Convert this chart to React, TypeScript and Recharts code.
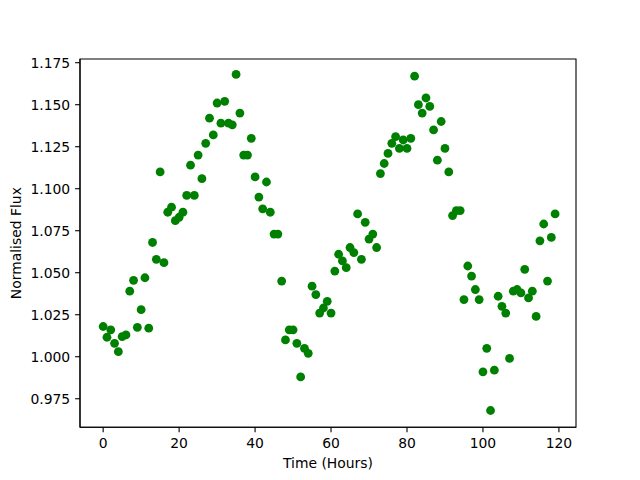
import React from 'react';
import { ScatterChart, Scatter, XAxis, YAxis, ReferenceArea } from 'recharts';

const hours: number[] = Array.from({ length: 120 }, (_, i) => i);

const flux: number[] = [
  1.018, 1.0116, 1.016, 1.008, 1.003, 1.012, 1.013, 1.039, 1.0455, 1.0175,
  1.028, 1.047, 1.017, 1.068, 1.058, 1.110, 1.056, 1.086, 1.089, 1.081,
  1.083, 1.086, 1.096, 1.114, 1.096, 1.120, 1.106, 1.127, 1.142, 1.132,
  1.151, 1.139, 1.152, 1.139, 1.138, 1.168, 1.145, 1.120, 1.120, 1.130,
  1.107, 1.095, 1.088, 1.104, 1.086, 1.073, 1.073, 1.045, 1.010, 1.016,
  1.016, 1.008, 0.988, 1.005, 1.002, 1.042, 1.037, 1.026, 1.029, 1.033,
  1.026, 1.051, 1.061, 1.057, 1.053, 1.065, 1.062, 1.085, 1.058, 1.080,
  1.070, 1.073, 1.065, 1.109, 1.115, 1.121, 1.127, 1.131, 1.124, 1.129,
  1.124, 1.130, 1.167, 1.150, 1.145, 1.154, 1.149, 1.135, 1.117, 1.140,
  1.124, 1.110, 1.084, 1.087, 1.087, 1.034, 1.054, 1.048, 1.040, 1.034,
  0.991, 1.005, 0.968, 0.992, 1.036, 1.030, 1.026, 0.999, 1.039, 1.040,
  1.038, 1.052, 1.035, 1.039, 1.024, 1.069, 1.079, 1.045, 1.071, 1.085,
];

const xTicks: number[] = [0, 20, 40, 60, 80, 100, 120];
const yTicks: number[] = [0.975, 1.0, 1.025, 1.05, 1.075, 1.1, 1.125, 1.15, 1.175];
const xDomain: [number, number] = [-6.1, 124.5];
const yDomain: [number, number] = [0.958, 1.1772];

const data = hours.map((h, i) => ({ x: h, y: flux[i] }));

const FONT = 'DejaVu Sans, sans-serif';
const tickStyle = { fontSize: 13.9, fontFamily: FONT, fill: '#000' };
const lineStyle = { stroke: '#000', strokeWidth: 1.1 };

const Dot = (props: any) => (
  <circle cx={props.cx} cy={props.cy} r={4.4} fill="#008000" />
);

export default function App() {
  return (
    <div style={{ position: 'absolute', left: 0, top: 0, width: 640, height: 480, background: '#fff' }}>
      <ScatterChart
        width={640}
        height={480}
        margin={{ top: 59, right: 64, bottom: 0, left: 0 }}
      >
        <XAxis
          type="number"
          dataKey="x"
          domain={xDomain}
          ticks={xTicks}
          allowDataOverflow
          height={52.7}
          tickSize={4.9}
          tickMargin={6}
          tick={tickStyle}
          axisLine={lineStyle}
          tickLine={lineStyle}
          label={{
            value: 'Time (Hours)',
            position: 'insideBottom',
            offset: 12.5,
            style: { fontSize: 13.9, fontFamily: FONT, fill: '#000' },
          }}
        />
        <YAxis
          type="number"
          dataKey="y"
          domain={yDomain}
          ticks={yTicks}
          allowDataOverflow
          width={80}
          tickSize={4.9}
          tickMargin={4.9}
          tick={tickStyle}
          tickFormatter={(v: number) => v.toFixed(3)}
          axisLine={lineStyle}
          tickLine={lineStyle}
          label={{
            value: 'Normalised Flux',
            angle: -90,
            position: 'insideLeft',
            offset: 16.5,
            style: { fontSize: 13.9, fontFamily: FONT, fill: '#000', textAnchor: 'middle' },
          }}
        />
        <ReferenceArea
          x1={xDomain[0]}
          x2={xDomain[1]}
          y1={yDomain[0]}
          y2={yDomain[1]}
          fill="none"
          fillOpacity={0}
          stroke="#000"
          strokeWidth={1.1}
          strokeOpacity={1}
          ifOverflow="visible"
        />
        <Scatter data={data} shape={Dot} isAnimationActive={false} />
      </ScatterChart>
    </div>
  );
}
